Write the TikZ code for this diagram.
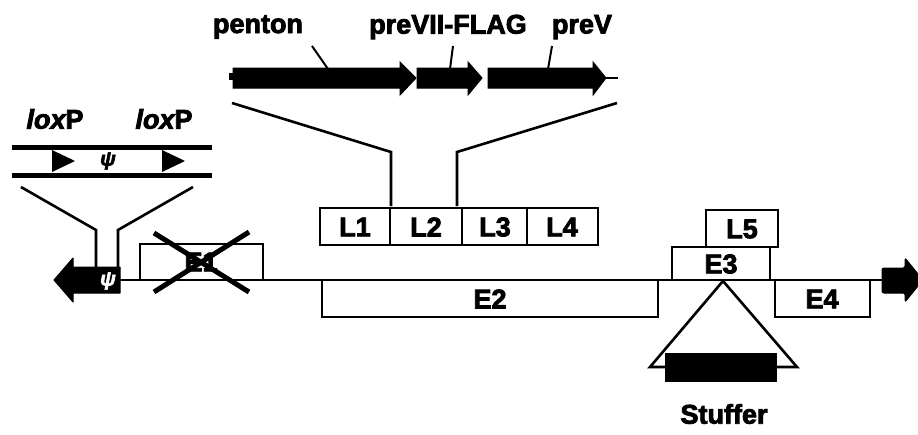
\documentclass[tikz,border=0pt]{standalone}
\usepackage{fontspec}
\setmainfont{Liberation Sans}
\newfontfamily\heavy{Liberation Sans Bold}[FakeBold=3]
\newfontfamily\heavyit{Liberation Sans Bold Italic}[FakeBold=3]
\begin{document}
\begin{tikzpicture}[x=1pt,y=-1pt,
  gene/.style={draw=black,line width=2pt,fill=white},
  lbl/.style={font=\heavy\fontsize{27}{27}\selectfont,inner sep=0pt},
  bigl/.style={font=\heavy\fontsize{27}{27}\selectfont,inner sep=0pt},
  thin/.style={line width=2pt},
  funnel/.style={line width=2.6pt,line join=miter},
  blk/.style={fill=black,draw=black,line width=1pt}]
\useasboundingbox[fill=white] (0,0) rectangle (918,434);

% genome backbone
\coordinate (bbL) at (73,280);
\coordinate (bbR) at (882,280);
\draw[line width=2.6pt] (bbL) -- (bbR);

% left ITR / packaging arrow with psi
\filldraw[blk,line join=round] (54,280) -- (73,258) -- (73,267) -- (120,267) -- (120,293) -- (73,293) -- (73,302) -- cycle;
\node[text=white,font=\heavyit\fontsize{20}{20}\selectfont,inner sep=0pt] (psiA) at (108,281) {ψ};

% right ITR arrow
\filldraw[blk,rounded corners=2pt] (882,268) -- (905,268) -- (905,258) [sharp corners] -- (918,274) -- (918,286) [rounded corners=2pt] -- (905,302) -- (905,293) -- (882,293) -- cycle;

% early and late regions
\draw[gene] (140,244) rectangle (263,280);
\node[bigl] (e1) at (201,262) {E1};
\draw[line width=5pt] (154,233) -- (249,292);
\draw[line width=5pt] (249,232) -- (154,292);

\draw[gene] (322,280) rectangle (658,317);
\node[bigl] (e2) at (490,299) {E2};

\draw[gene] (706,210) rectangle (778,247);
\node[bigl] (l5) at (742,229) {L5};
\draw[gene] (672,247) rectangle (770,280);
\node[bigl] (e3) at (721,264) {E3};
\draw[gene] (775,280) rectangle (870,317);
\node[bigl] (e4) at (822,299) {E4};

\draw[gene] (320,208) rectangle (390,245);
\draw[gene] (390,208) rectangle (462,245);
\draw[gene] (462,208) rectangle (527,245);
\draw[gene] (527,208) rectangle (598,245);
\node[bigl] (l1) at (355,227) {L1};
\node[bigl] (l2) at (426,227) {L2};
\node[bigl] (l3) at (495,227) {L3};
\node[bigl] (l4) at (562,227) {L4};

% stuffer insertion in E3
\coordinate (apex) at (723,281);
\draw[line width=2.6pt,line join=miter] (apex) -- (797,367) -- (650,367) -- cycle;
\fill[black] (665,353) rectangle (777,382);
\node[lbl] (stuffer) at (724,414) {Stuffer};

% expanded L1/L2 region
\draw[funnel] (232,103) -- (391,152) -- (391,206);
\draw[funnel] (617,103) -- (457,152) -- (457,206);

\draw[line width=2pt] (605,78) -- (618,78);
\fill[black] (229,73) rectangle (234,80);
\filldraw[blk] (233,68) -- (400,68) -- (400,62) -- (416,78) -- (400,95) -- (400,88) -- (233,88) -- cycle;
\filldraw[blk] (417,68) -- (468,68) -- (468,62) -- (482,78) -- (468,95) -- (468,88) -- (417,88) -- cycle;
\filldraw[blk] (488,68) -- (593,68) -- (593,62) -- (606,78) -- (593,95) -- (593,88) -- (488,88) -- cycle;

\node[lbl] (penton) at (258,27) {penton};
\node[lbl] (previi) at (448,27) {preVII-FLAG};
\node[lbl] (prev) at (582,27) {preV};
\coordinate (pA) at (328,69);
\coordinate (pB) at (450,69);
\coordinate (pC) at (548,69);
\draw[thin] (312,46) -- (pA);
\draw[thin] (453,46) -- (pB);
\draw[thin] (552,46) -- (pC);

% expanded packaging region
\draw[funnel] (21,187) -- (96,230) -- (96,267);
\draw[funnel] (193,187) -- (118,230) -- (118,267);

\draw[line width=5pt] (12,147) -- (212,147);
\draw[line width=5pt] (12,175) -- (212,175);
\fill[black] (52,150) -- (75,161) -- (52,172) -- cycle;
\fill[black] (162,150) -- (185,161) -- (162,172) -- cycle;
\node[font=\heavyit\fontsize{20}{20}\selectfont,inner sep=0pt] (psiB) at (108,161) {ψ};

\node[lbl] (lox1) at (55,119) {{\heavyit lox}P};
\node[lbl] (lox2) at (164,119) {{\heavyit lox}P};
\end{tikzpicture}
\end{document}
